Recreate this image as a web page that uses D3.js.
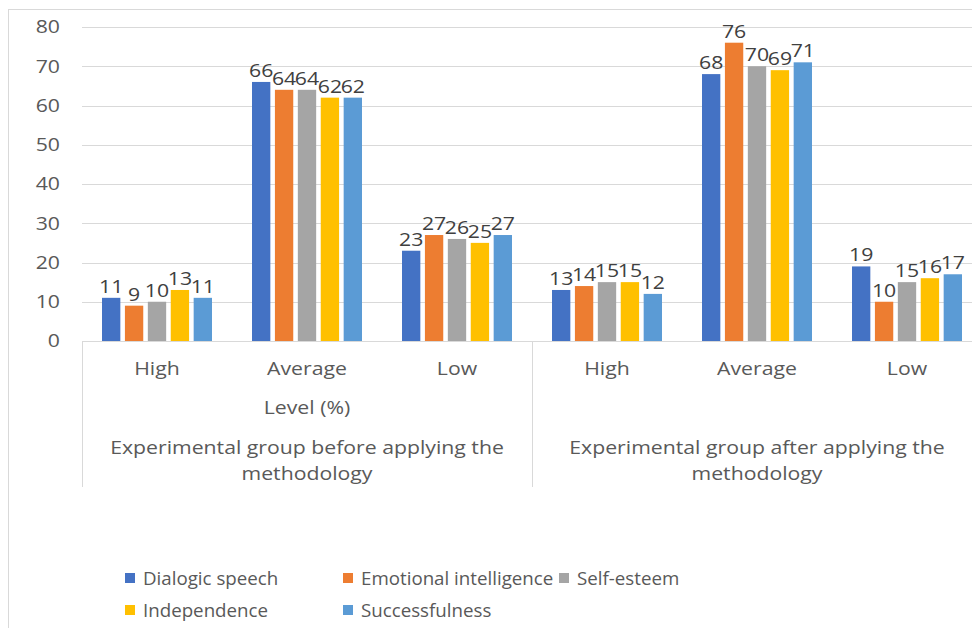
<!DOCTYPE html>
<html>
<head>
<meta charset="utf-8">
<script src="https://cdn.jsdelivr.net/npm/d3@7"></script>
<style>
  html, body { margin: 0; padding: 0; background: #fff; }
  svg { display: block; font-family: "Open Sans", "Noto Sans", sans-serif; }
</style>
</head>
<body>
<div id="chart"></div>
<script>
// Data
const groupLines = [
  ['Experimental group before applying the', 'methodology'],
  ['Experimental group after applying the', 'methodology']
];
const levels = ['High', 'Average', 'Low'];
const series = ['Dialogic speech', 'Emotional intelligence', 'Self-esteem', 'Independence', 'Successfulness'];
const colors = ['#4472C4', '#ED7D31', '#A5A5A5', '#FFC000', '#5B9BD5'];

// rows = level, columns = series
const beforeValues = [
  [11, 9, 10, 13, 11],
  [66, 64, 64, 62, 62],
  [23, 27, 26, 25, 27]
];
const afterValues = [
  [13, 14, 15, 15, 12],
  [68, 76, 70, 69, 71],
  [19, 10, 15, 16, 17]
];
const yTicks = [0, 10, 20, 30, 40, 50, 60, 70, 80];

const W = 972, H = 628;
const PLOT_L = 82, PLOT_T = 27, PLOT_B = 341;
const CAT_W = 150;
const SX = 1.18;      // chart text is a bit wider than Open Sans
const SX_LEG = 1.04;  // legend text is close to normal width
const textColor = '#595959';

const svg = d3.select('#chart').append('svg')
  .attr('width', W).attr('height', H);

// place text via transform so it can be stretched horizontally
const at = (x, y, sx = SX) => `translate(${x},${y}) scale(${sx},1)`;

// Chart frame
svg.append('rect')
  .attr('x', 8.5).attr('y', 9.5)
  .attr('width', W).attr('height', H)
  .attr('fill', 'none').attr('stroke', '#d9d9d9');

// Flat category list
const cats = [];
[beforeValues, afterValues].forEach((gv, gi) => {
  levels.forEach((lv, li) => {
    cats.push({ id: gi + '-' + li, group: gi, level: lv, values: gv[li] });
  });
});

const x0 = d3.scaleBand()
  .domain(cats.map(c => c.id))
  .range([PLOT_L, PLOT_L + CAT_W * cats.length])
  .paddingInner(0).paddingOuter(0);

const x1 = d3.scaleBand()
  .domain(series)
  .range([0, x0.bandwidth()])
  .paddingInner(0.2)
  .paddingOuter(0.873);

const y = d3.scaleLinear().domain([0, 80]).range([PLOT_B, PLOT_T]);

// Gridlines
svg.append('g').selectAll('line')
  .data(yTicks.filter(t => t > 0))
  .join('line')
  .attr('x1', PLOT_L).attr('x2', W)
  .attr('y1', d => Math.round(y(d)) + 0.5).attr('y2', d => Math.round(y(d)) + 0.5)
  .attr('stroke', '#d9d9d9').attr('stroke-width', 1);

// Y tick labels
svg.append('g').selectAll('text')
  .data(yTicks)
  .join('text')
  .attr('transform', d => at(60, y(d)))
  .attr('dy', '0.35em')
  .attr('text-anchor', 'end')
  .attr('font-size', 18)
  .attr('fill', textColor)
  .text(d => d);

// Bars
const catG = svg.append('g').selectAll('g')
  .data(cats)
  .join('g')
  .attr('transform', d => `translate(${x0(d.id)},0)`);

catG.selectAll('rect')
  .data(d => d.values.map((v, i) => ({ s: series[i], v, i })))
  .join('rect')
  .attr('x', d => x1(d.s))
  .attr('y', d => y(d.v))
  .attr('width', x1.bandwidth())
  .attr('height', d => y(0) - y(d.v))
  .attr('fill', d => colors[d.i]);

// Value labels
catG.selectAll('text')
  .data(d => d.values.map((v, i) => ({ s: series[i], v, i })))
  .join('text')
  .attr('transform', d => at(x1(d.s) + x1.bandwidth() / 2, y(d.v) - 5))
  .attr('text-anchor', 'middle')
  .attr('font-size', 18)
  .attr('fill', '#404040')
  .text(d => d.v);

// Category axis line
svg.append('line')
  .attr('x1', PLOT_L).attr('x2', W)
  .attr('y1', PLOT_B + 0.5).attr('y2', PLOT_B + 0.5)
  .attr('stroke', '#d9d9d9');

// Group separators
const sepX = [PLOT_L, PLOT_L + CAT_W * levels.length, PLOT_L + CAT_W * cats.length];
svg.append('g').selectAll('line')
  .data(sepX)
  .join('line')
  .attr('x1', d => d + 0.5).attr('x2', d => d + 0.5)
  .attr('y1', PLOT_B).attr('y2', 487)
  .attr('stroke', '#d9d9d9');

// Level labels
svg.append('g').selectAll('text')
  .data(cats)
  .join('text')
  .attr('transform', d => at(x0(d.id) + x0.bandwidth() / 2, 369))
  .attr('dy', '0.35em')
  .attr('text-anchor', 'middle')
  .attr('font-size', 18)
  .attr('fill', textColor)
  .text(d => d.level);

// Axis title
svg.append('text')
  .attr('transform', at(PLOT_L + CAT_W * 1.5, 408))
  .attr('dy', '0.35em')
  .attr('text-anchor', 'middle')
  .attr('font-size', 18)
  .attr('fill', textColor)
  .text('Level (%)');

// Group labels
groupLines.forEach((lines, gi) => {
  const cx = PLOT_L + CAT_W * levels.length * (gi + 0.5);
  svg.append('g').selectAll('text')
    .data(lines)
    .join('text')
    .attr('transform', (d, k) => at(cx, 448 + k * 26))
    .attr('dy', '0.35em')
    .attr('text-anchor', 'middle')
    .attr('font-size', 18)
    .attr('fill', textColor)
    .text(d => d);
});

// Legend
const legendPos = [[125, 578], [343, 578], [559, 578], [125, 610], [343, 610]];
const leg = svg.append('g').selectAll('g')
  .data(series)
  .join('g')
  .attr('transform', (d, i) => `translate(${legendPos[i][0]},${legendPos[i][1]})`);

leg.append('rect')
  .attr('x', 0).attr('y', -5)
  .attr('width', 10).attr('height', 10)
  .attr('fill', (d, i) => colors[i]);

leg.append('text')
  .attr('transform', at(18, 1, SX_LEG))
  .attr('dy', '0.35em')
  .attr('font-size', 18)
  .attr('fill', textColor)
  .text(d => d);
</script>
</body>
</html>
